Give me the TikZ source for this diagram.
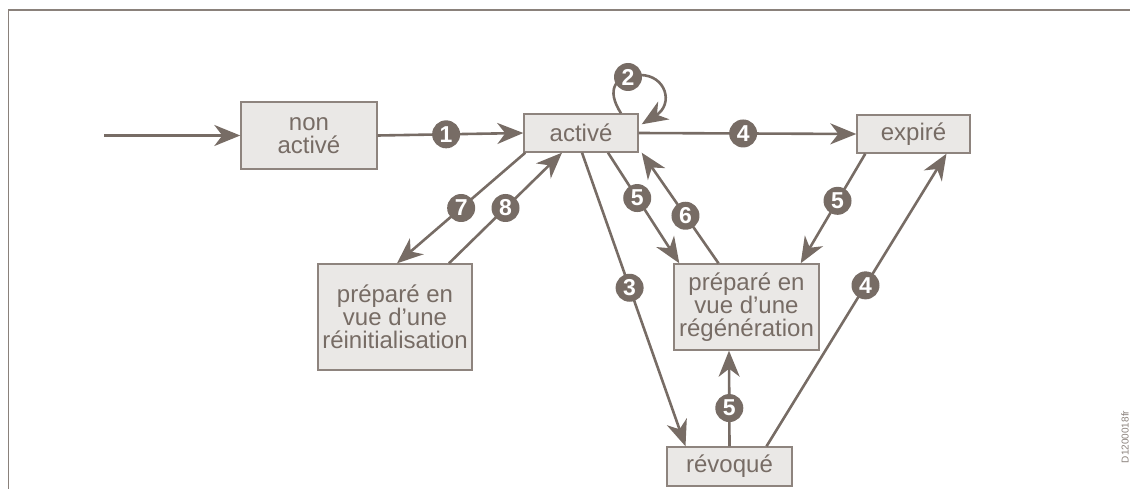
\documentclass[tikz,border=0pt]{standalone}
\usepackage{fontspec}
\setmainfont{Liberation Sans}
\usetikzlibrary{arrows.meta,calc}
\definecolor{ink}{HTML}{776C65}
\definecolor{boxfill}{HTML}{EAE8E6}
\definecolor{boxline}{HTML}{8E847E}
\definecolor{frameline}{HTML}{8A817B}
\begin{document}
\begin{tikzpicture}[x=1pt,y=-1pt,
  state/.style={draw=boxline,fill=boxfill,line width=1.4pt,text=ink,inner sep=0pt,
    align=center,font=\fontsize{24}{23}\selectfont},
  flow/.style={draw=ink,line width=2.6pt,-{Stealth[length=26pt,width=21pt,inset=8pt]}},
  num/.style={circle,fill=ink,text=white,inner sep=0pt,minimum size=28pt,
    font=\fontsize{23}{23}\selectfont\bfseries},
]
\useasboundingbox (0,0) rectangle (1130,489);
% open frame
\draw[frameline,line width=1.5pt] (8.5,489) -- (8.5,10) -- (1130,10);

% states
\node[state,minimum width=136pt,minimum height=67pt] (na)  at (309,135.5) {non\\activé};
\node[state,minimum width=114pt,minimum height=38pt] (act) at (581,133) {activé};
\node[state,minimum width=113pt,minimum height=38pt] (exp) at (913.5,134) {expiré};
\node[state,minimum width=154pt,minimum height=106pt] (rei) at (395,317) {préparé en\\vue d’une\\réinitialisation};
\node[state,minimum width=145pt,minimum height=86pt] (reg) at (746.5,307) {préparé en\\vue d’une\\régénération};
\node[state,minimum width=125pt,minimum height=39pt] (rev) at (729.5,466.5) {révoqué};

% transitions
\coordinate (start) at (104,135.5);
\draw[flow] (start) -- (na.west);
\draw[flow] (na.east) -- (act.west) node[num,pos=0.47] {1};
\coordinate (looptop) at (640,75);
\draw[flow] ([xshift=40pt]act.north) .. controls (606,90) and (614,75) .. (looptop)
  .. controls (666,75) and (674,104) .. ([xshift=3pt,yshift=-11pt]act.north east);
\node[num] (n2) at (628,77) {2};
\draw[flow] (act.east) -- (exp.west) node[num,pos=0.48] {4};
\draw[flow] ([xshift=2pt]act.south west) -- ([xshift=2pt]rei.north) node[num,pos=0.5] {7};
\draw[flow] ([xshift=54pt]rei.north) -- ([xshift=-19pt]act.south) node[num,pos=0.5] {8};
\draw[flow] ([xshift=1pt]act.south) -- ([xshift=-44pt]rev.north) node[num,pos=0.46] {3};
\draw[flow] ([xshift=27pt]act.south) -- ([xshift=6pt]reg.north west) node[num,pos=0.41] {5};
\draw[flow] ([xshift=-28pt]reg.north) -- ([xshift=3pt]act.south east) node[num,pos=0.43] {6};
\draw[flow] ([xshift=9pt]exp.south west) -- ([xshift=-19pt]reg.north east) node[num,pos=0.43] {5};
\draw[flow] ([xshift=37pt]rev.north) -- ([xshift=33pt]exp.south) node[num,pos=0.55] {4};
\draw[flow] (rev.north) -- ([xshift=-17.5pt]reg.south) node[num,pos=0.4] {5};

% drawing reference
\node[rotate=90,anchor=south,inner sep=0pt,text=frameline,font=\fontsize{10}{10}\selectfont] (ref) at (1129,437) {D1200018fr};
\end{tikzpicture}
\end{document}
